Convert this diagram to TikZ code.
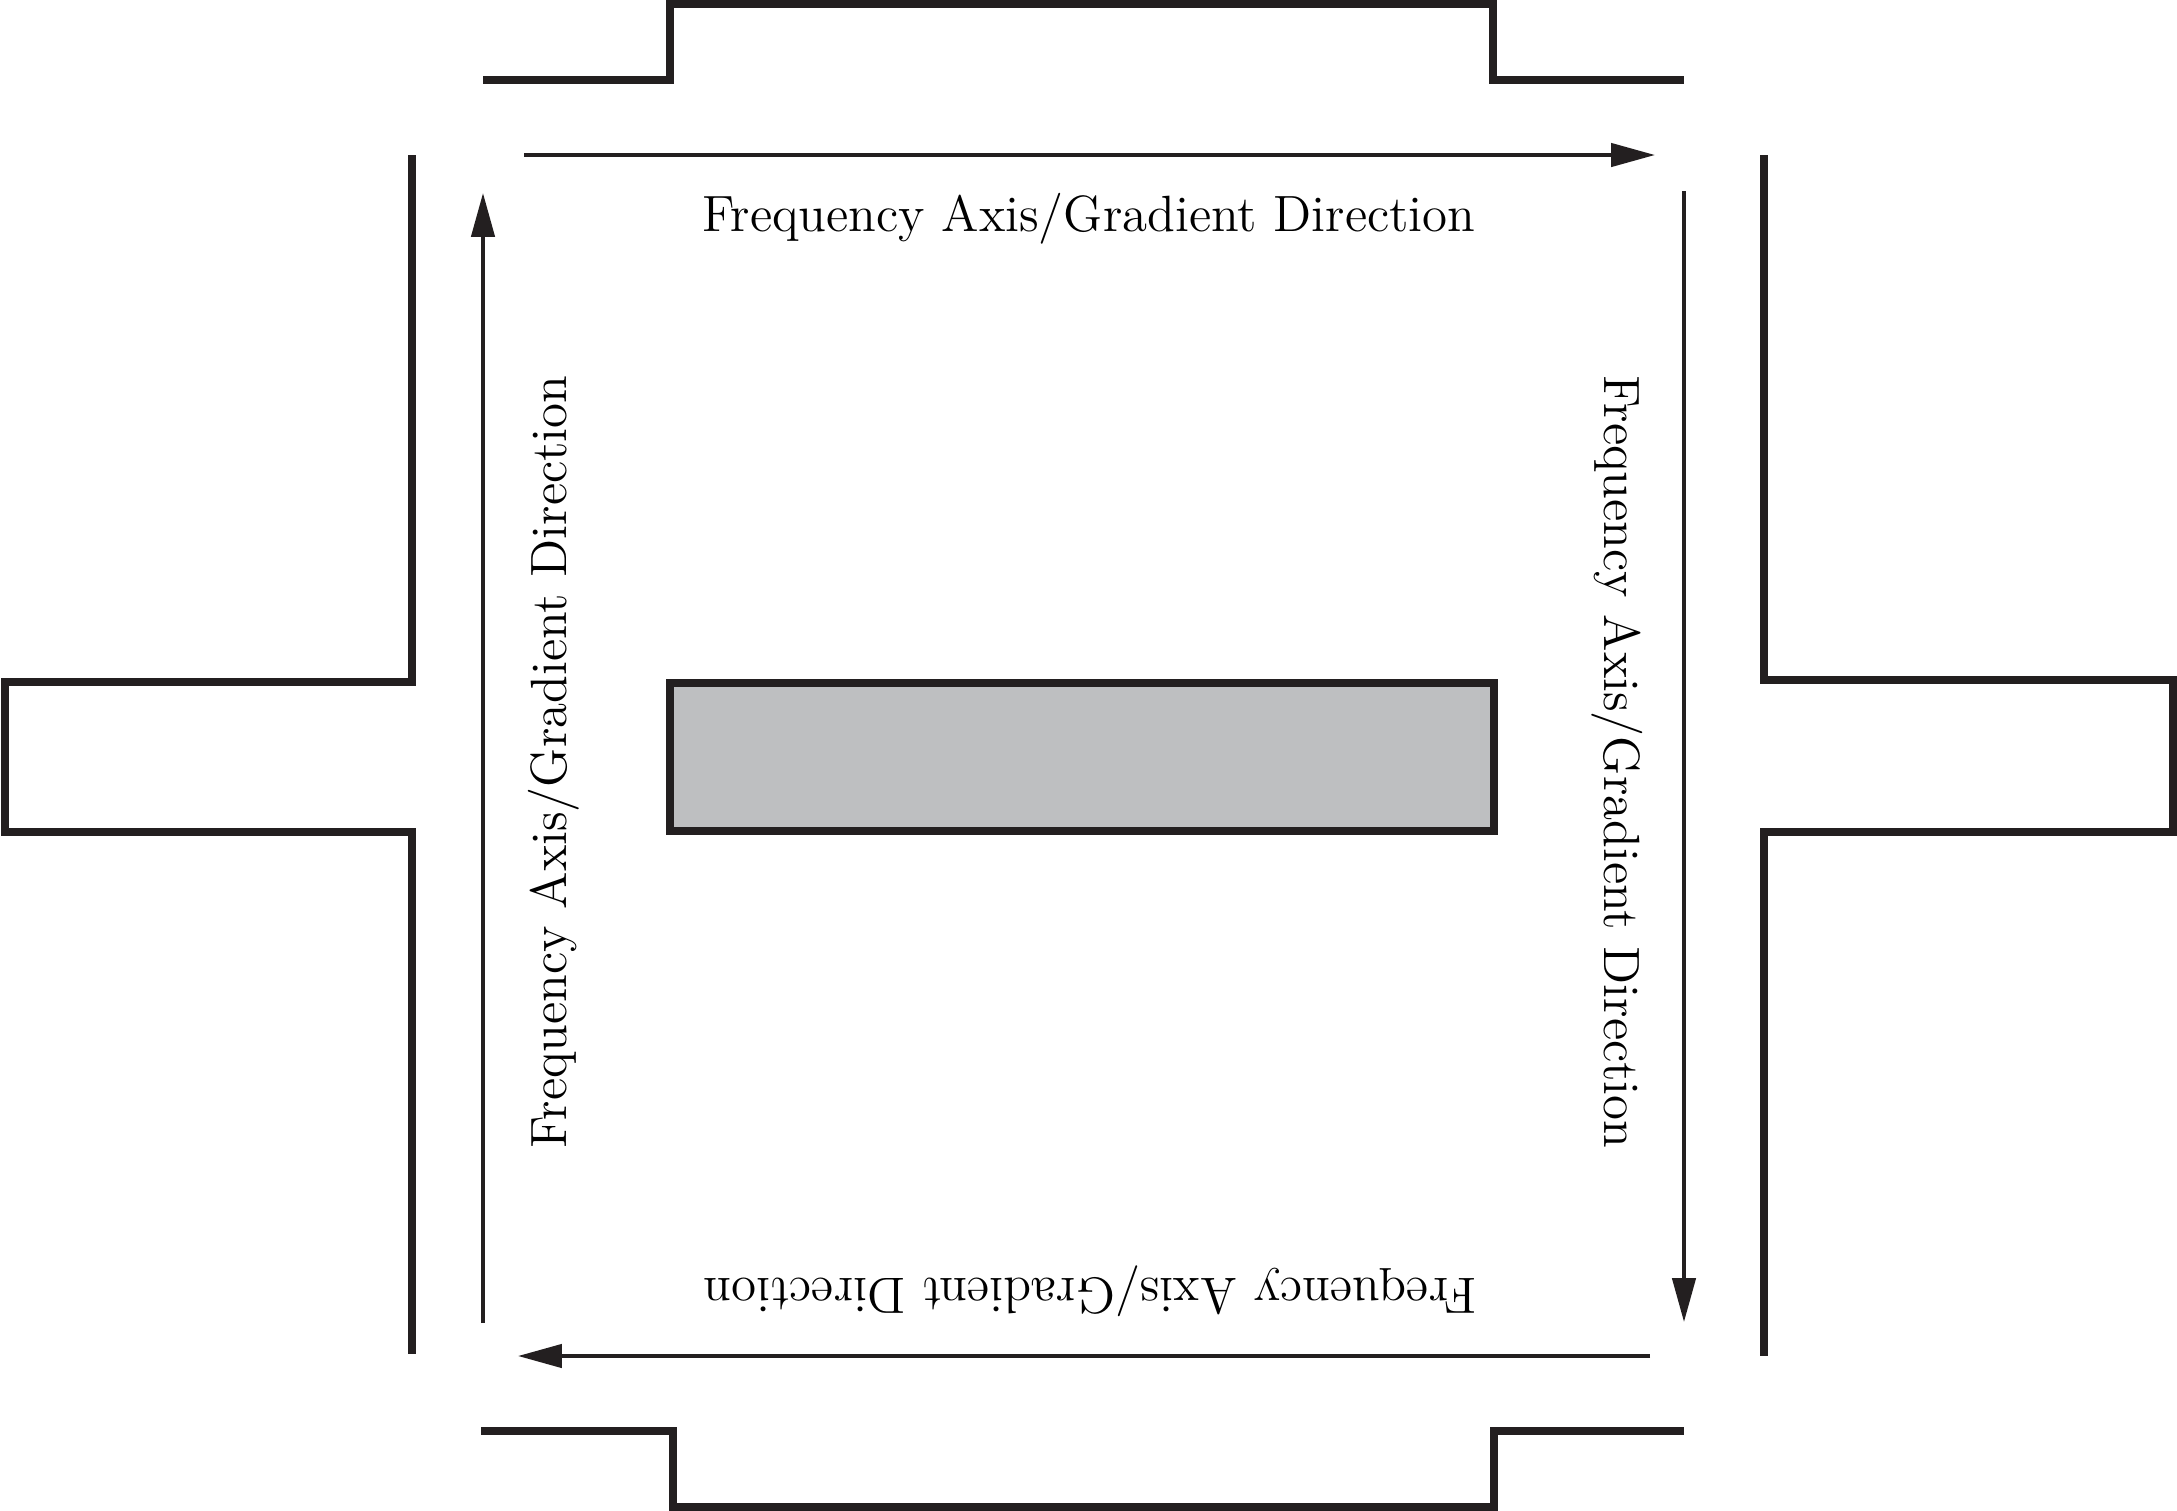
\documentclass[tikz,border=0pt]{standalone}
\usepackage{tikz}
\usetikzlibrary{arrows.meta,positioning,calc}
\definecolor{slabgray}{RGB}{190,191,193}
\definecolor{inkblack}{RGB}{35,31,32}

\tikzset{
 wall/.style={line width=2.2pt,line join=miter,draw=inkblack},
 flow/.style={line width=1.1pt,draw=inkblack,-{Triangle[length=12.5pt,width=6.6pt]}},
 axislabel/.style={font=\fontsize{14.5}{17}\selectfont,inner sep=0pt,anchor=base}
}

\begin{document}
\begin{tikzpicture}[x=0.01cm,y=-0.01cm]
\useasboundingbox (0,0) rectangle (2177,1511);
% magnet walls
\draw[wall] (483,80)--(670,80)--(670,4)--(1493,4)--(1493,80)--(1684,80);
\draw[wall] (481,1431)--(673,1431)--(673,1507)--(1494,1507)--(1494,1431)--(1684,1431);
\draw[wall] (412,155)--(412,682)--(5,682)--(5,832)--(412,832)--(412,1354);
\draw[wall] (1764,155)--(1764,680)--(2173,680)--(2173,832)--(1764,832)--(1764,1356);
% sample
\draw[wall,fill=slabgray] (670,683) rectangle (1494,831);
% arrow ends
\coordinate (tl) at (524,155); \coordinate (tr) at (1655,155);
\coordinate (rt) at (1684,191); \coordinate (rb) at (1684,1322);
\coordinate (br) at (1650,1356); \coordinate (bl) at (518,1356);
\coordinate (lb) at (483,1323); \coordinate (lt) at (483,193);
\draw[flow] (tl) -- (tr);
\draw[flow] (rt) -- (rb);
\draw[flow] (br) -- (bl);
\draw[flow] (lb) -- (lt);
% labels
\node[axislabel] (toplabel) at (1089,231) {Frequency Axis/Gradient Direction};
\node[axislabel,rotate=-90] (rightlabel) at (1604,762) {Frequency Axis/Gradient Direction};
\node[axislabel,rotate=180] (bottomlabel) at (1090,1278) {Frequency Axis/Gradient Direction};
\node[axislabel,rotate=90] (leftlabel) at (566,762) {Frequency Axis/Gradient Direction};
\end{tikzpicture}
\end{document}
